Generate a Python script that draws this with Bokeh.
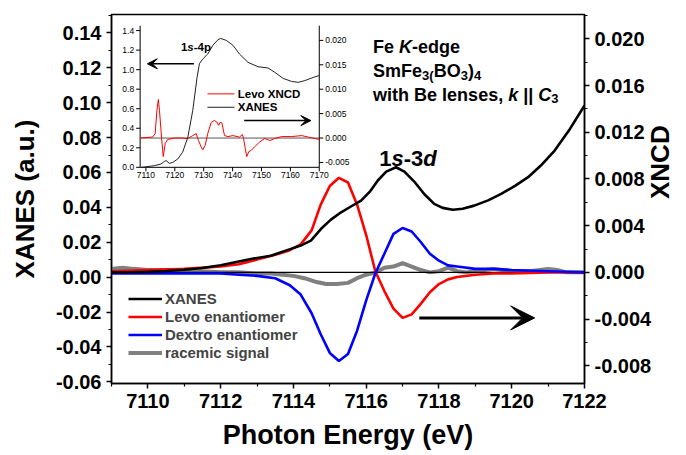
import numpy as np
from bokeh.plotting import figure
from bokeh.models import (Range1d, LinearAxis, FixedTicker, PrintfTickFormatter,
                          Legend, LegendItem, Arrow, VeeHead, Label)
from bokeh.core.properties import value
from bokeh.embed import file_html
from bokeh.resources import INLINE

FONT = "Liberation Sans"

# ---------------- main panel data ----------------
xanes_e = [7109.0, 7109.5, 7110.0, 7110.5, 7111.0, 7111.5, 7112.0, 7112.5, 7112.83, 7113.38,
           7113.93, 7114.2, 7114.48, 7114.76, 7115.03, 7115.31, 7115.58, 7115.86, 7116.1, 7116.32,
           7116.55, 7116.82, 7117.05, 7117.32, 7117.6, 7117.87, 7118.1, 7118.38, 7118.65, 7118.97,
           7119.35, 7119.71, 7120.1, 7120.45, 7120.8, 7121.18, 7121.6, 7122.0]
xanes = [0.0027, 0.0028, 0.0030, 0.0035, 0.0042, 0.0052, 0.0068, 0.0090, 0.0104, 0.0123,
         0.0162, 0.0181, 0.0209, 0.0277, 0.0330, 0.0372, 0.0405, 0.0439, 0.0490, 0.0554,
         0.0605, 0.0630, 0.0605, 0.0548, 0.0475, 0.0420, 0.0397, 0.0386, 0.0392, 0.0410,
         0.0440, 0.0477, 0.0525, 0.0573, 0.0640, 0.0726, 0.0850, 0.0984]

xncd_e = [7109.0, 7110.0, 7111.0, 7112.0, 7112.5, 7113.0, 7113.5, 7113.9, 7114.2, 7114.5,
          7114.75, 7115.0, 7115.25, 7115.5, 7115.75, 7116.0, 7116.25, 7116.5, 7116.75, 7117.0,
          7117.25, 7117.5, 7117.75, 7118.0, 7118.25, 7118.5, 7119.0, 7119.5, 7120.0, 7121.0, 7122.0]
levo = [0.0001, 0.0002, 0.0003, 0.0005, 0.0007, 0.0011, 0.0015, 0.0019, 0.0024, 0.0036,
        0.0058, 0.0074, 0.0081, 0.0077, 0.0058, 0.0032, 0.0001, -0.0016, -0.0031, -0.0039,
        -0.0036, -0.0027, -0.0017, -0.0010, -0.0006, -0.0004, -0.0002, -0.0001, -0.0001, 0.0000, 0.0000]
dextro = [-0.0001, -0.0001, -0.0001, -0.0001, -0.0002, -0.0003, -0.0005, -0.0011, -0.0019, -0.0035,
          -0.0053, -0.0069, -0.0076, -0.0070, -0.0050, -0.0024, -0.0001, 0.0016, 0.0033, 0.0038,
          0.0035, 0.0026, 0.0016, 0.0010, 0.0006, 0.0005, 0.0003, 0.0003, 0.0002, 0.0001, 0.0000]

rac_e = [7109.0, 7109.3, 7109.6, 7110.0, 7110.5, 7111.0, 7111.5, 7112.0, 7112.5, 7113.0,
         7113.4, 7113.7, 7114.0, 7114.3, 7114.6, 7114.9, 7115.2, 7115.5, 7115.75, 7116.0,
         7116.27, 7116.5, 7116.75, 7117.0, 7117.25, 7117.5, 7117.75, 7118.0, 7118.25, 7118.5,
         7118.75, 7119.0, 7119.5, 7119.75, 7120.0, 7120.5, 7121.0, 7121.25, 7121.5, 7122.0]
racemic = [0.0003, 0.0004, 0.0003, 0.0002, 0.0002, 0.0001, 0.0001, 0.0000, 0.0000, -0.0001,
           -0.0001, -0.0002, -0.0003, -0.0005, -0.0008, -0.0010, -0.0010, -0.0009, -0.0005, -0.0002,
           0.0000, 0.0004, 0.0005, 0.0008, 0.0005, 0.0002, 0.0000, 0.0001, 0.0004, 0.0001,
           0.0000, 0.0001, 0.0003, 0.0002, 0.0001, 0.0001, 0.0003, 0.0002, 0.0000, 0.0000]

series_labels = ["XANES", "Levo enantiomer", "Dextro enantiomer", "racemic signal"]

x_ticks = [7110, 7112, 7114, 7116, 7118, 7120, 7122]
x_minor = [7109, 7111, 7113, 7115, 7117, 7119, 7121]
left_ticks = [-0.06, -0.04, -0.02, 0.0, 0.02, 0.04, 0.06, 0.08, 0.10, 0.12, 0.14]
left_minor = [-0.05, -0.03, -0.01, 0.01, 0.03, 0.05, 0.07, 0.09, 0.11, 0.13, 0.15]
right_ticks = [-0.008, -0.004, 0.0, 0.004, 0.008, 0.012, 0.016, 0.020]
right_minor = [-0.006, -0.002, 0.002, 0.006, 0.010, 0.014, 0.018, 0.022]

# ---------------- inset data ----------------
inset_xanes_e = [7108.3, 7110.0, 7112.9, 7115.2, 7116.4, 7117.0, 7118.1, 7119.3, 7121.0, 7122.7,
                 7124.5, 7126.2, 7127.7, 7128.5, 7129.7, 7131.4, 7133.2, 7134.7, 7135.8, 7137.8,
                 7140.1, 7142.4, 7145.3, 7148.8, 7152.3, 7154.6, 7157.5, 7160.4, 7162.7, 7165.0,
                 7167.9, 7170.0]
inset_xanes = [0.0, 0.005, 0.017, 0.034, 0.061, 0.068, 0.041, 0.051, 0.085, 0.154,
               0.307, 0.58, 0.92, 1.06, 1.11, 1.16, 1.25, 1.30, 1.32, 1.30,
               1.25, 1.16, 1.075, 1.03, 1.017, 0.973, 0.91, 0.88, 0.87, 0.888,
               0.92, 0.94]
inset_xncd_e = [7108.0, 7112.3, 7113.2, 7113.8, 7114.3, 7114.7, 7115.4, 7116.0, 7116.7, 7117.5,
                7119.8, 7122.7, 7124.5, 7126.2, 7127.4, 7128.2, 7129.1, 7129.7, 7130.5, 7131.4,
                7132.6, 7133.7, 7134.7, 7135.1, 7135.7, 7136.3, 7137.2, 7138.4, 7140.1, 7142.4,
                7143.4, 7143.8, 7144.4, 7144.9, 7145.6, 7146.5, 7147.6, 7149.4, 7151.1, 7152.9,
                7154.6, 7156.9, 7160.4, 7163.9, 7166.2, 7170.0]
inset_levo = [0.0, 0.0002, 0.0009, 0.0056, 0.0079, 0.0056, 0.0002, -0.0038, -0.0011, -0.0003,
              0.0, 0.0, -0.0001, 0.0005, 0.0009, -0.0005, -0.0018, -0.0024, -0.0015, 0.0009,
              0.0032, 0.0036, 0.0032, 0.0026, 0.0032, 0.0031, 0.0005, 0.0003, 0.0005, 0.0002,
              0.0007, -0.0001, -0.0022, -0.0038, -0.0028, -0.0025, -0.0018, -0.0008, -0.0001, -0.0005,
              -0.0001, 0.0003, 0.0003, 0.0005, 0.0002, -0.0003]
inset_labels = ["Levo XNCD", "XANES"]
inset_x_ticks = [7110, 7120, 7130, 7140, 7150, 7160, 7170]
inset_left_ticks = [0.0, 0.2, 0.4, 0.6, 0.8, 1.0, 1.2, 1.4]
inset_right_ticks = [-0.005, 0.0, 0.005, 0.010, 0.015, 0.020]

# ---------------- ranges ----------------
X0, X1 = 7109, 7122
IX0, IX1 = 7108, 7170          # inset x extent
IYL0, IYL1 = 0.0, 1.45         # inset left y extent

p = figure(frame_width=473, frame_height=369,
           min_border_left=111, min_border_right=102, min_border_top=14, min_border_bottom=72,
           x_range=Range1d(X0, X1), y_range=Range1d(-0.061, 0.1506),
           output_backend="svg", toolbar_location=None,
           background_fill_color="white", border_fill_color="white")
p.grid.visible = False
p.outline_line_color = "black"
p.outline_line_width = 1.5

p.extra_y_ranges = {"xncd": Range1d(-0.00952, 0.02209),
                    "iyl": Range1d(-2.2133, 1.5647),
                    "iyr": Range1d(-0.05027, 0.02530)}
p.extra_x_ranges = {"ix": Range1d(7098.09, 7261.79)}

right_axis = LinearAxis(y_range_name="xncd")
p.add_layout(right_axis, "right")

def style_axis(ax, title, label_size="20px", title_size="26px"):
    ax.axis_label = title
    ax.axis_label_text_font = FONT
    ax.axis_label_text_font_style = "bold"
    ax.axis_label_text_font_size = title_size
    ax.axis_label_text_color = "black"
    ax.major_label_text_font = FONT
    ax.major_label_text_font_style = "bold"
    ax.major_label_text_font_size = label_size
    ax.major_label_text_color = "black"
    ax.axis_line_width = 1.5
    ax.major_tick_line_width = 1.5
    ax.minor_tick_line_width = 1.2
    ax.major_tick_out = 5
    ax.major_tick_in = 0
    ax.minor_tick_out = 3
    ax.minor_tick_in = 0
    ax.major_label_standoff = 5

xa = p.xaxis[0]
style_axis(xa, "Photon Energy (eV)", title_size="27px")
xa.ticker = FixedTicker(ticks=x_ticks, minor_ticks=x_minor)
xa.formatter = PrintfTickFormatter(format="%d")
xa.axis_label_standoff = 9

ya = p.yaxis[0]
style_axis(ya, "XANES (a.u.)")
ya.ticker = FixedTicker(ticks=left_ticks, minor_ticks=left_minor)
ya.formatter = PrintfTickFormatter(format="%.2f")
ya.axis_label_standoff = 13

style_axis(right_axis, "XNCD")
right_axis.ticker = FixedTicker(ticks=right_ticks, minor_ticks=right_minor)
right_axis.formatter = PrintfTickFormatter(format="%.3f")
right_axis.axis_label_standoff = 6
right_axis.axis_label_orientation = np.pi / 2

# ---------------- main curves ----------------
r_rac = p.line(rac_e, racemic, color="#808080", line_width=4, y_range_name="xncd")
p.line([X0, X1], [0, 0], color="black", line_width=1.2, y_range_name="xncd")
r_levo = p.line(xncd_e, levo, color="#ff0000", line_width=2.6, y_range_name="xncd")
r_dex = p.line(xncd_e, dextro, color="#0000ff", line_width=2.6, y_range_name="xncd")
r_xan = p.line(xanes_e, xanes, color="black", line_width=2.6)

legend = Legend(items=[LegendItem(label=series_labels[0], renderers=[r_xan]),
                       LegendItem(label=series_labels[1], renderers=[r_levo]),
                       LegendItem(label=series_labels[2], renderers=[r_dex]),
                       LegendItem(label=series_labels[3], renderers=[r_rac])],
                location=(17, 22), label_text_font=FONT, label_text_font_style="bold",
                label_text_font_size="15px", glyph_width=34, glyph_height=17,
                label_height=17, spacing=1, padding=0, margin=0, label_standoff=3,
                border_line_alpha=0, background_fill_alpha=0)
p.add_layout(legend)

p.add_layout(Arrow(x_start=7117.46, y_start=-0.0039, x_end=7120.63, y_end=-0.0039,
                   y_range_name="xncd", line_width=3, line_color="black",
                   end=VeeHead(size=24, fill_color="black", line_color="black")))

def seg_label(x, y, parts, size, yr="xncd", xr="default"):
    for off, txt, style, fs, dy in parts:
        p.add_layout(Label(x=x, y=y, x_offset=off, y_offset=dy, text=txt,
                           x_range_name=xr, y_range_name=yr,
                           text_font=FONT, text_font_style=style,
                           text_font_size=fs if fs else size, text_baseline="alphabetic",
                           text_color="black"))

TX = 7116.19
seg_label(TX, 0.01929, [(0, "Fe", "bold", None, 0), (26, "K", "bold italic", None, 0),
                        (39, "-edge", "bold", None, 0)], "18px")
seg_label(TX, 0.01723, [(0, "SmFe", "bold", None, 0), (49, "3(", "bold", "13px", -4),
                        (60.6, "BO", "bold", None, 0), (87.6, "3", "bold", "13px", -4),
                        (94.8, ")", "bold", None, 0), (100.8, "4", "bold", "13px", -4)], "18px")
seg_label(TX, 0.01523, [(0, "with Be lenses,", "bold", None, 0), (135.1, "k", "bold italic", None, 0),
                        (150.1, "||", "bold", None, 0), (165.2, "C", "bold italic", None, 0),
                        (178.2, "3", "bold", "13px", -4)], "18px")
seg_label(7116.36, 0.00972, [(0, "1", "bold", None, 0), (12.2, "s", "bold italic", None, 0),
                             (24.4, "-3", "bold", None, 0), (44.0, "d", "bold italic", None, 0)], "22px")

# ---------------- inset ----------------
ik = dict(x_range_name="ix", y_range_name="iyl")
ikr = dict(x_range_name="ix", y_range_name="iyr")
p.line([IX0, IX0, IX1, IX1], [IYL1, IYL0, IYL0, IYL1], color="black", line_width=1, **ik)
p.line([IX0, IX1], [0, 0], color="#555555", line_width=1, **ikr)
p.ray(x=[IX0] * len(inset_left_ticks), y=inset_left_ticks, length=4, length_units="screen",
      angle=np.pi, color="black", line_width=1, **ik)
p.ray(x=inset_x_ticks, y=[IYL0] * len(inset_x_ticks), length=4, length_units="screen",
      angle=-np.pi / 2, color="black", line_width=1, **ik)
p.ray(x=[IX1] * len(inset_right_ticks), y=inset_right_ticks, length=4, length_units="screen",
      angle=0, color="black", line_width=1, **ikr)
p.text(x=[IX0] * len(inset_left_ticks), y=inset_left_ticks,
       text=["%.1f" % v for v in inset_left_ticks], x_offset=-6, text_align="right",
       text_baseline="middle", text_font=value(FONT), text_font_size="8.5px", **ik)
p.text(x=inset_x_ticks, y=[IYL0] * len(inset_x_ticks), text=["%d" % v for v in inset_x_ticks],
       y_offset=5, text_align="center", text_baseline="top", text_font=value(FONT),
       text_font_size="8.5px", **ik)
p.text(x=[IX1] * len(inset_right_ticks), y=inset_right_ticks,
       text=["%.3f" % v for v in inset_right_ticks], x_offset=6, text_align="left",
       text_baseline="middle", text_font=value(FONT), text_font_size="8.5px", **ikr)

p.line(inset_xncd_e, inset_levo, color="#ff0000", line_width=1, **ikr)
p.line(inset_xanes_e, inset_xanes, color="#222222", line_width=1, **ik)

# inset legend
p.ray(x=[7131.3, 7131.3], y=[0.752, 0.615], length=27, length_units="screen", angle=0,
      color=["#ff0000", "#222222"], line_width=1, **ik)
p.text(x=[7141.8, 7141.8], y=[0.752, 0.615], text=inset_labels, text_baseline="middle",
       text_font=value(FONT), text_font_style="bold", text_font_size="11.5px", **ik)

p.add_layout(Arrow(x_start=7126.6, y_start=1.06, x_end=7110.5, y_end=1.06, line_width=1.5,
                   end=VeeHead(size=10, fill_color="black", line_color="black"), **ik))
p.add_layout(Arrow(x_start=7144.0, y_start=0.00357, x_end=7167.1, y_end=0.00357, line_width=1.5,
                   end=VeeHead(size=10, fill_color="black", line_color="black"), **ikr))

seg_label(7122.1, 1.23, [(0, "1", "bold", None, 0), (6.4, "s", "bold italic", None, 0),
                         (12.8, "-4p", "bold", None, 0)], "11.5px", yr="iyl", xr="ix")

open("out.html", "w").write(file_html(p, INLINE))
